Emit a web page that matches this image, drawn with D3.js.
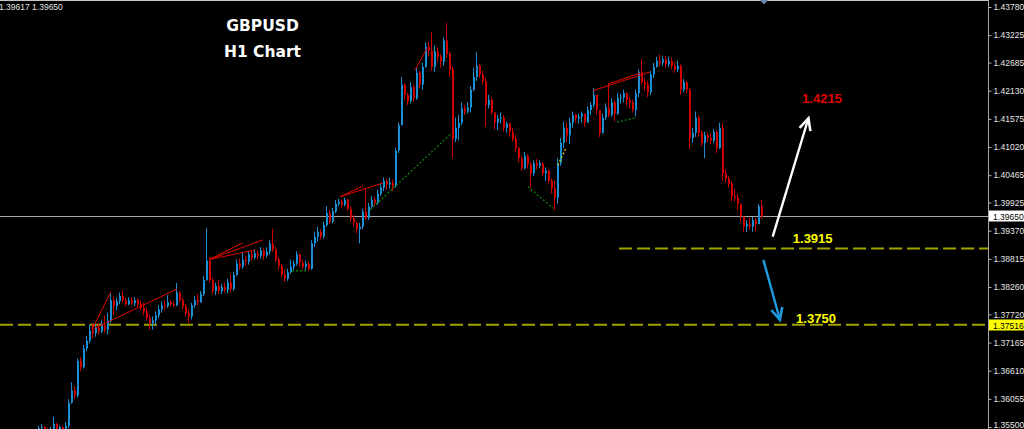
<!DOCTYPE html>
<html><head><meta charset="utf-8">
<script src="https://cdn.jsdelivr.net/npm/d3@7"></script>
<style>html,body{margin:0;padding:0;background:#000;overflow:hidden}</style>
</head><body>
<svg id="c" width="1024" height="429"></svg>
<script>
// ---- data (GBPUSD H1) ----
const firstOpen = 1.3545;
const closes = [1.3548,1.3550,1.3545,1.3540,1.3546,1.3556,1.3545,1.3550,1.3544,1.3552,
1.3598,1.3622,1.3612,1.3680,1.3668,1.3705,1.3720,1.3740,1.3735,1.3745,
1.3738,1.3750,1.3742,1.3760,1.3800,1.3788,1.3798,1.3808,1.3800,1.3792,
1.3800,1.3794,1.3800,1.3792,1.3785,1.3778,1.3765,1.3755,1.3760,1.3770,
1.3782,1.3790,1.3788,1.3796,1.3792,1.3790,1.3815,1.3800,1.3788,1.3775,
1.3768,1.3790,1.3800,1.3796,1.3812,1.3840,1.3878,1.3840,1.3818,1.3828,
1.3818,1.3826,1.3820,1.3835,1.3822,1.3850,1.3872,1.3866,1.3880,1.3876,
1.3890,1.3884,1.3892,1.3888,1.3898,1.3888,1.3896,1.3912,1.3900,1.3880,
1.3868,1.3850,1.3842,1.3855,1.3866,1.3872,1.3890,1.3874,1.3866,1.3872,
1.3862,1.3912,1.3925,1.3935,1.3926,1.3948,1.3972,1.3955,1.3975,1.3990,
1.3994,1.3988,1.3998,1.3980,1.3962,1.3952,1.3940,1.3945,1.3975,1.3962,
1.3985,1.3998,1.3992,1.4010,1.4022,1.4035,1.4028,1.4032,1.4025,1.4095,
1.4145,1.4225,1.4205,1.4192,1.4220,1.4198,1.4248,1.4225,1.4260,1.4300,
1.4292,1.4260,1.4290,1.4280,1.4270,1.4312,1.4285,1.4255,1.4118,1.4140,
1.4150,1.4178,1.4172,1.4180,1.4215,1.4240,1.4262,1.4245,1.4232,1.4185,
1.4195,1.4170,1.4150,1.4158,1.4160,1.4140,1.4148,1.4132,1.4118,1.4100,
1.4080,1.4060,1.4085,1.4068,1.4050,1.4070,1.4065,1.4070,1.4050,1.4055,
1.4035,1.4020,1.4002,1.4070,1.4110,1.4140,1.4125,1.4150,1.4165,1.4158,
1.4162,1.4168,1.4150,1.4175,1.4185,1.4205,1.4175,1.4130,1.4160,1.4180,
1.4165,1.4190,1.4168,1.4198,1.4200,1.4208,1.4195,1.4190,1.4175,1.4208,
1.4250,1.4230,1.4225,1.4210,1.4245,1.4260,1.4272,1.4268,1.4275,1.4265,
1.4272,1.4262,1.4255,1.4262,1.4215,1.4230,1.4215,1.4120,1.4130,1.4160,
1.4130,1.4110,1.4125,1.4120,1.4115,1.4132,1.4100,1.4140,1.4050,1.4040,
1.4030,1.4005,1.4002,1.3990,1.3965,1.3945,1.3950,1.3945,1.3958,1.3950,
1.3985,1.3965];
const highs = [1.3553,1.3556,1.3552,1.3548,1.3550,1.3570,1.3558,1.3553,1.3552,1.3560,
1.3605,1.3638,1.3630,1.3685,1.3688,1.3712,1.3730,1.3752,1.3755,1.3752,
1.3755,1.3760,1.3770,1.3775,1.3815,1.3808,1.3805,1.3815,1.3818,1.3805,
1.3806,1.3806,1.3806,1.3804,1.3800,1.3795,1.3785,1.3772,1.3768,1.3778,
1.3790,1.3798,1.3800,1.3810,1.3800,1.3798,1.3834,1.3818,1.3805,1.3792,
1.3782,1.3795,1.3808,1.3812,1.3818,1.3848,1.3942,1.3885,1.3845,1.3835,
1.3840,1.3832,1.3835,1.3842,1.3850,1.3856,1.3880,1.3882,1.3895,1.3888,
1.3896,1.3898,1.3900,1.3898,1.3905,1.3902,1.3904,1.3918,1.3941,1.3905,
1.3885,1.3872,1.3860,1.3862,1.3880,1.3878,1.3896,1.3893,1.3880,1.3878,
1.3876,1.3918,1.3935,1.3945,1.3940,1.3955,1.3985,1.3978,1.3982,1.3998,
1.4000,1.3998,1.4002,1.4000,1.3985,1.3968,1.3955,1.3952,1.3980,1.4020,
1.3992,1.4005,1.4004,1.4018,1.4030,1.4042,1.4040,1.4042,1.4038,1.4100,
1.4150,1.4240,1.4228,1.4208,1.4230,1.4225,1.4260,1.4252,1.4268,1.4308,
1.4310,1.4328,1.4302,1.4298,1.4285,1.4318,1.4346,1.4290,1.4262,1.4160,
1.4165,1.4190,1.4185,1.4190,1.4222,1.4258,1.4289,1.4265,1.4252,1.4238,
1.4205,1.4200,1.4165,1.4165,1.4170,1.4165,1.4152,1.4150,1.4140,1.4125,
1.4102,1.4085,1.4092,1.4088,1.4072,1.4076,1.4078,1.4076,1.4072,1.4062,
1.4058,1.4040,1.4036,1.4080,1.4120,1.4152,1.4150,1.4160,1.4172,1.4168,
1.4168,1.4172,1.4168,1.4182,1.4190,1.4218,1.4205,1.4160,1.4168,1.4188,
1.4228,1.4198,1.4195,1.4208,1.4206,1.4215,1.4210,1.4200,1.4195,1.4215,
1.4255,1.4275,1.4238,1.4232,1.4252,1.4268,1.4280,1.4285,1.4282,1.4282,
1.4280,1.4278,1.4268,1.4272,1.4265,1.4236,1.4232,1.4218,1.4140,1.4172,
1.4165,1.4135,1.4132,1.4130,1.4128,1.4138,1.4135,1.4150,1.4148,1.4058,
1.4045,1.4035,1.4020,1.4010,1.3988,1.3965,1.3958,1.3962,1.3964,1.3962,
1.3990,1.3998];
const lows = [1.3535,1.3540,1.3535,1.3530,1.3532,1.3540,1.3538,1.3540,1.3535,1.3538,
1.3548,1.3596,1.3605,1.3608,1.3660,1.3665,1.3700,1.3715,1.3725,1.3728,
1.3732,1.3735,1.3735,1.3732,1.3755,1.3770,1.3780,1.3792,1.3795,1.3788,
1.3790,1.3790,1.3788,1.3786,1.3780,1.3770,1.3760,1.3742,1.3742,1.3752,
1.3765,1.3775,1.3780,1.3785,1.3788,1.3786,1.3788,1.3795,1.3782,1.3768,
1.3755,1.3762,1.3785,1.3790,1.3795,1.3808,1.3838,1.3835,1.3812,1.3810,
1.3812,1.3812,1.3815,1.3814,1.3815,1.3818,1.3848,1.3860,1.3862,1.3868,
1.3870,1.3878,1.3880,1.3880,1.3882,1.3880,1.3884,1.3890,1.3895,1.3875,
1.3860,1.3845,1.3836,1.3838,1.3852,1.3858,1.3868,1.3866,1.3860,1.3858,
1.3858,1.3860,1.3905,1.3915,1.3920,1.3922,1.3945,1.3950,1.3952,1.3972,
1.3985,1.3982,1.3985,1.3975,1.3955,1.3945,1.3932,1.3912,1.3940,1.3958,
1.3958,1.3980,1.3986,1.3988,1.4005,1.4015,1.4018,1.4020,1.4015,1.4022,
1.4090,1.4150,1.4195,1.4185,1.4188,1.4190,1.4195,1.4218,1.4215,1.4258,
1.4280,1.4252,1.4250,1.4270,1.4258,1.4262,1.4278,1.4240,1.4080,1.4112,
1.4115,1.4145,1.4165,1.4168,1.4170,1.4212,1.4232,1.4238,1.4225,1.4142,
1.4178,1.4165,1.4136,1.4135,1.4148,1.4132,1.4130,1.4122,1.4112,1.4092,
1.4072,1.4055,1.4058,1.4060,1.4022,1.4045,1.4058,1.4060,1.4045,1.4035,
1.4030,1.4010,1.3977,1.3990,1.4065,1.4100,1.4112,1.4108,1.4140,1.4150,
1.4148,1.4150,1.4142,1.4150,1.4165,1.4180,1.4165,1.4122,1.4128,1.4155,
1.4160,1.4162,1.4152,1.4165,1.4188,1.4190,1.4185,1.4178,1.4170,1.4162,
1.4200,1.4225,1.4212,1.4200,1.4205,1.4238,1.4258,1.4260,1.4262,1.4258,
1.4260,1.4255,1.4248,1.4250,1.4205,1.4210,1.4208,1.4098,1.4110,1.4122,
1.4122,1.4104,1.4080,1.4112,1.4108,1.4110,1.4090,1.4098,1.4036,1.4032,
1.4022,1.3995,1.3995,1.3977,1.3955,1.3935,1.3934,1.3938,1.3935,1.3936,
1.3950,1.3960];

const tickValues = [1.43780,1.43225,1.42685,1.42130,1.41575,1.41020,1.40465,1.39925,
  1.39370,1.38815,1.38260,1.37720,1.37165,1.36610,1.36055,1.35500];
const priceDomain = [1.35500, 1.43780];
const bidAskText = "1.39617 1.39650";
const lastPrice = 1.39650;
const hlinePrice = 1.37516;
const supportLevel = 1.39020;
const supportStart = 193.7;
const titleLines = ["GBPUSD", "H1 Chart"];

// indicator trend lines: [barIndex, price]
const redLines = [
  [[18,1.3742],[24.3,1.3817]],
  [[18,1.3742],[46.3,1.3822]],
  [[57,1.3880],[68.3,1.3913]],
  [[57,1.3880],[75,1.3919]],
  [[57,1.3880],[72.3,1.3899]],
  [[100.7,1.4004],[108.3,1.4025]],
  [[100.7,1.4004],[115,1.4031]],
  [[125.7,1.4254],[129.7,1.4297]],
  [[185,1.4213],[204,1.4250]],
  [[190,1.4226],[200.7,1.4248]]
];
const greenLines = [
  [[110.7,1.3978],[138,1.4130]],
  [[163.3,1.4024],[171.7,1.3981]],
  [[84.7,1.3858],[90,1.3858]],
  [[193,1.4151],[199,1.4159]]
];
const yellowLines = [ [[173.3,1.4066],[176,1.4100]] ];

const arrows = [
  {from:[244.9,1.39255], to:[256.8,1.41587], color:"#ffffff"},
  {from:[241.8,1.38796], to:[247.3,1.37614], color:"#1e9be0"}
];
const notes = [
  {text:"1.4215", at:[254.7,1.41968], color:"#e00000"},
  {text:"1.3915", at:[251.6,1.39216], color:"#ffff00"},
  {text:"1.3750", at:[252.7,1.37640], color:"#ffff00"}
];

// ---- drawing ----
const W = 1024, H = 429, axisX = 988;
const svg = d3.select("#c");
svg.append("rect").attr("width",W).attr("height",H).attr("fill","#000");

const x = d3.scaleLinear().domain([0, closes.length-1]).range([38, 761]);
const y = d3.scaleLinear().domain(priceDomain).range([427, 7]);

svg.append("defs").append("clipPath").attr("id","plot")
  .append("rect").attr("x",0).attr("y",1).attr("width",axisX).attr("height",H);

const plot = svg.append("g").attr("clip-path","url(#plot)");

// last price line
plot.append("line").attr("x1",0).attr("x2",axisX).attr("y1",Math.round(y(lastPrice))+0.5).attr("y2",Math.round(y(lastPrice))+0.5)
  .attr("stroke","#a8a8a8").attr("stroke-width",1);

// dashed levels
plot.append("line").attr("x1",0).attr("x2",axisX).attr("y1",y(hlinePrice)).attr("y2",y(hlinePrice))
  .attr("stroke","#a3a300").attr("stroke-width",2).attr("stroke-dasharray","13,5");
plot.append("line").attr("x1",x(supportStart)).attr("x2",axisX).attr("y1",y(supportLevel)).attr("y2",y(supportLevel))
  .attr("stroke","#a3a300").attr("stroke-width",2).attr("stroke-dasharray","13,5");

// candles
const bars = closes.map((c,i)=>({i, o: i? closes[i-1] : firstOpen, c, h: highs[i], l: lows[i]}));
const bull = "#1b8fd2", bear = "#d10000";
const cg = plot.append("g");
bars.forEach(b=>{
  const up = b.c >= b.o;
  const col = up ? bull : bear;
  const cx = Math.round(x(b.i));
  const hi = Math.max(b.h,b.o,b.c), lo = Math.min(b.l,b.o,b.c);
  cg.append("line").attr("x1",cx+0.5).attr("x2",cx+0.5).attr("y1",y(hi)).attr("y2",y(lo))
    .attr("stroke",col).attr("stroke-width",1);
  const top = y(Math.max(b.o,b.c)), bot = y(Math.min(b.o,b.c));
  cg.append("rect").attr("x",cx).attr("y",top).attr("width",2).attr("height",Math.max(1,bot-top)).attr("fill",col);
});

const line = d3.line().x(d=>x(d[0])).y(d=>y(d[1]));
redLines.forEach(l=>plot.append("path").attr("d",line(l)).attr("fill","none").attr("stroke","#e00000").attr("stroke-width",1));
greenLines.forEach(l=>plot.append("path").attr("d",line(l)).attr("fill","none").attr("stroke","#0c800c").attr("stroke-width",1.3).attr("stroke-dasharray","2,2"));
yellowLines.forEach(l=>plot.append("path").attr("d",line(l)).attr("fill","none").attr("stroke","#d0d000").attr("stroke-width",1.3).attr("stroke-dasharray","2,2"));

// arrows
arrows.forEach(a=>{
  const x1=x(a.from[0]), y1=y(a.from[1]), x2=x(a.to[0]), y2=y(a.to[1]);
  plot.append("line").attr("x1",x1).attr("y1",y1).attr("x2",x2).attr("y2",y2)
    .attr("stroke",a.color).attr("stroke-width",2.4);
  const ang = Math.atan2(y1-y2, x1-x2), L = 13, sp = 0.45;
  const p1=[x2+L*Math.cos(ang+sp), y2+L*Math.sin(ang+sp)], p2=[x2+L*Math.cos(ang-sp), y2+L*Math.sin(ang-sp)];
  plot.append("path").attr("d",`M${p1[0]},${p1[1]}L${x2},${y2}L${p2[0]},${p2[1]}`)
    .attr("fill","none").attr("stroke",a.color).attr("stroke-width",2.6).attr("stroke-linejoin","miter");
});

// notes
notes.forEach(n=>{
  plot.append("text").attr("x",x(n.at[0])).attr("y",y(n.at[1])).attr("dominant-baseline","central")
    .attr("fill",n.color).attr("font-family","'Liberation Sans',Arial,sans-serif").attr("font-weight","bold")
    .attr("font-size",13).text(n.text);
});

// title
titleLines.forEach((t,k)=>{
  svg.append("text").attr("x",262.5).attr("y",26+k*25.7).attr("text-anchor","middle").attr("dominant-baseline","central")
    .attr("fill","#ffffff").attr("font-family","'DejaVu Sans',sans-serif").attr("font-weight","bold")
    .attr("font-size",15.5).text(t);
});

// top border & bid/ask
svg.append("line").attr("x1",0).attr("x2",axisX).attr("y1",0.5).attr("y2",0.5).attr("stroke","#c8c8c8");
svg.append("text").attr("x",-1).attr("y",7).attr("dominant-baseline","central").attr("fill","#e0e0e0")
  .attr("font-family","'Liberation Sans',Arial,sans-serif").attr("font-size",8.5).text(bidAskText);

// shift marker
const mx = x(closes.length);
svg.append("path").attr("d",`M${mx-4},0L${mx+4},0L${mx},4.5Z`).attr("fill","#6a88aa");

// right axis
const axis = d3.axisRight(y).tickValues(tickValues).tickSize(3).tickPadding(2).tickFormat(d3.format(".5f"));
const ag = svg.append("g").attr("transform",`translate(${axisX+0.5},0)`).call(axis);
ag.select(".domain").remove();
ag.selectAll(".tick line").attr("stroke","#b0b0b0");
ag.selectAll(".tick text").attr("fill","#e6e6e6").attr("font-family","'Liberation Sans',Arial,sans-serif").attr("font-size",8.5);
ag.selectAll(".tick text").filter(d=>d===priceDomain[0]).attr("y",-2.5);
svg.append("line").attr("x1",axisX+0.5).attr("x2",axisX+0.5).attr("y1",0).attr("y2",H).attr("stroke","#a8a8a8");

// price boxes
[[lastPrice,"#ffffff"],[hlinePrice,"#ffff00"]].forEach(([p,bg])=>{
  const yy = Math.round(y(p));
  svg.append("rect").attr("x",axisX+1).attr("y",yy-5.5).attr("width",W-axisX-1).attr("height",11).attr("fill",bg);
  svg.append("text").attr("x",axisX+5).attr("y",yy+0.5).attr("dominant-baseline","central").attr("fill","#000")
    .attr("font-family","'Liberation Sans',Arial,sans-serif").attr("font-size",8.5).text(d3.format(".5f")(p));
});
</script>
</body></html>
